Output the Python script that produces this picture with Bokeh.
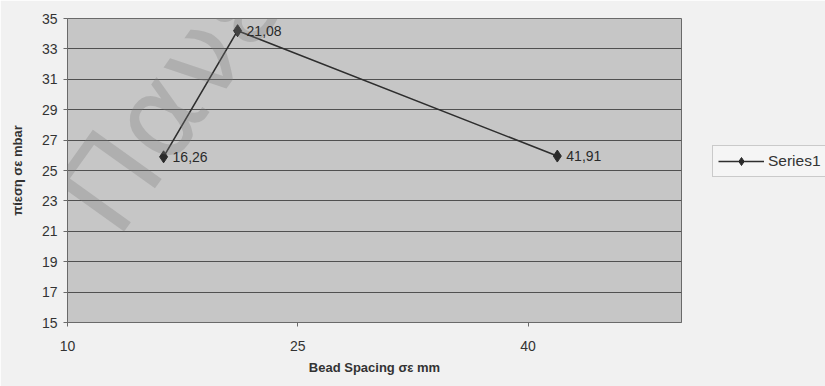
from bokeh.plotting import figure
from bokeh.models import (ColumnDataSource, Range1d, FixedTicker, Legend, LegendItem,
                          Label, LabelSet)
from bokeh.core.properties import value
from bokeh.embed import file_html
from bokeh.resources import INLINE

# Bead spacing (mm) vs pressure (mbar)
spacing_mm = [16.26, 21.08, 41.91]
pressure_mbar = [25.9, 34.2, 25.95]
point_labels = ["16,26", "21,08", "41,91"]
x_ticks = [10, 25, 40]
y_ticks = [15, 17, 19, 21, 23, 25, 27, 29, 31, 33, 35]

src = ColumnDataSource(dict(x=spacing_mm, y=pressure_mbar, lab=point_labels))

FONT = "Liberation Sans"

p = figure(frame_width=614, frame_height=304, output_backend="svg",
           toolbar_location=None,
           x_range=Range1d(10, 50), y_range=Range1d(15, 35),
           min_border_left=67, min_border_right=144, min_border_top=18,
           min_border_bottom=64)
p.background_fill_color = "#c6c6c6"
p.border_fill_color = "#f1f1f1"
p.outline_line_color = "#6a6a6a"
p.outline_line_width = 1

# axes
p.xaxis.ticker = FixedTicker(ticks=x_ticks)
p.yaxis.ticker = FixedTicker(ticks=y_ticks)
for ax in (p.xaxis[0], p.yaxis[0]):
    ax.axis_line_color = "#6a6a6a"
    ax.major_tick_line_color = "#6a6a6a"
    ax.major_tick_out = 4
    ax.major_tick_in = 0
    ax.minor_tick_line_color = None
    ax.major_label_text_font = FONT
    ax.major_label_text_font_size = "14px"
    ax.major_label_text_color = "#333333"
    ax.axis_label_text_font = FONT
    ax.axis_label_text_font_size = "13px"
    ax.axis_label_text_font_style = "bold"
    ax.axis_label_text_color = "#333333"
p.xaxis.major_label_standoff = 14
p.xaxis.axis_label = "Bead Spacing σε mm"
p.xaxis.axis_label_standoff = 6
p.yaxis.major_label_standoff = 6
p.yaxis.axis_label = "πίεση σε mbar"
p.yaxis.axis_label_standoff = 14

p.xgrid.grid_line_color = None
p.ygrid.grid_line_color = "#505050"
p.ygrid.grid_line_width = 1

# watermark
wm = Label(x=72, y=66, x_units="screen", y_units="screen", text="Πανεπ",
           angle=0.95, text_font="DejaVu Sans", text_font_size="116px",
           text_color="#7a7a7a", text_alpha=0.3)
p.add_layout(wm)

line = p.line("x", "y", source=src, line_color="#2e2e2e", line_width=1.6)
pts = p.scatter("x", "y", source=src, marker="diamond", size=12,
                fill_color="#2a2a2a", line_color="#2a2a2a")

labels = LabelSet(x="x", y="y", text="lab", source=src, x_offset=9, y_offset=0,
                  text_font=value(FONT), text_font_size=value("14px"),
                  text_color="#2a2a2a", text_baseline="middle")
p.add_layout(labels)

legend = Legend(items=[LegendItem(label="Series1", renderers=[line, pts])],
                location=(31, 145), margin=0, orientation="vertical",
                label_text_font=FONT, label_text_font_size="15.5px",
                label_text_color="#333333", glyph_width=46, glyph_height=20,
                label_height=20,
                border_line_color="#a0a0a0", background_fill_color="#f4f4f4",
                padding=5, spacing=0, label_standoff=4)
p.add_layout(legend, "right")

open("out.html", "w").write(file_html(p, INLINE))
